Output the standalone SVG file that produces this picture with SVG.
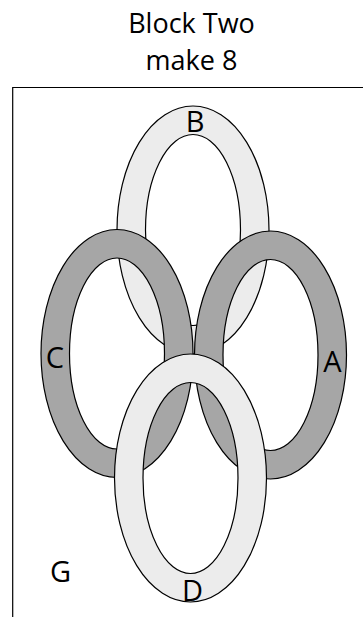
<svg xmlns="http://www.w3.org/2000/svg" xmlns:xlink="http://www.w3.org/1999/xlink" width="363" height="617" viewBox="0 0 363 617">
<style>
  .ring { stroke: #000; stroke-width: 1.2; fill-rule: evenodd; }
  .light { fill: #ececec; }
  .dark { fill: #a6a6a6; }
  .title { font-family: "Open Sans", "Liberation Sans", sans-serif; font-size: 27px; fill: #000; text-anchor: middle; }
  .lbl { font-family: "Open Sans", "Liberation Sans", sans-serif; font-size: 29px; fill: #000; text-anchor: middle; }
  .frame { fill: none; stroke: #000; stroke-width: 1.2; }
</style>
<defs>
  <path id="ringShape" d="M-76,0 a76,124 0 1,0 152,0 a76,124 0 1,0 -152,0 Z M-47.5,0 a47.5,95.5 0 1,0 95,0 a47.5,95.5 0 1,0 -95,0 Z"/>
</defs>
<rect width="363" height="617" fill="#fff"/>
<g id="title">
  <text class="title" x="191.5" y="33">Block Two</text>
  <text class="title" x="191.5" y="70">make 8</text>
</g>
<g id="frame">
  <path class="frame" d="M12.7,617 V87.5 H363"/>
</g>
<g id="connectors"></g>
<g id="ring-B">
  <use xlink:href="#ringShape" href="#ringShape" class="ring light" transform="translate(193,230)"/>
  <text class="lbl" x="195" y="131.5">B</text>
</g>
<g id="ring-C">
  <use xlink:href="#ringShape" href="#ringShape" class="ring dark" transform="translate(117,353.5)"/>
  <text class="lbl" x="55" y="367.5">C</text>
</g>
<g id="ring-A">
  <use xlink:href="#ringShape" href="#ringShape" class="ring dark" transform="translate(270.5,355)"/>
  <text class="lbl" x="332.5" y="372">A</text>
</g>
<g id="ring-D">
  <use xlink:href="#ringShape" href="#ringShape" class="ring light" transform="translate(190.5,478)"/>
  <text class="lbl" x="192.5" y="601">D</text>
</g>
<g id="label-G">
  <text class="lbl" x="60.5" y="581.5">G</text>
</g>
</svg>
